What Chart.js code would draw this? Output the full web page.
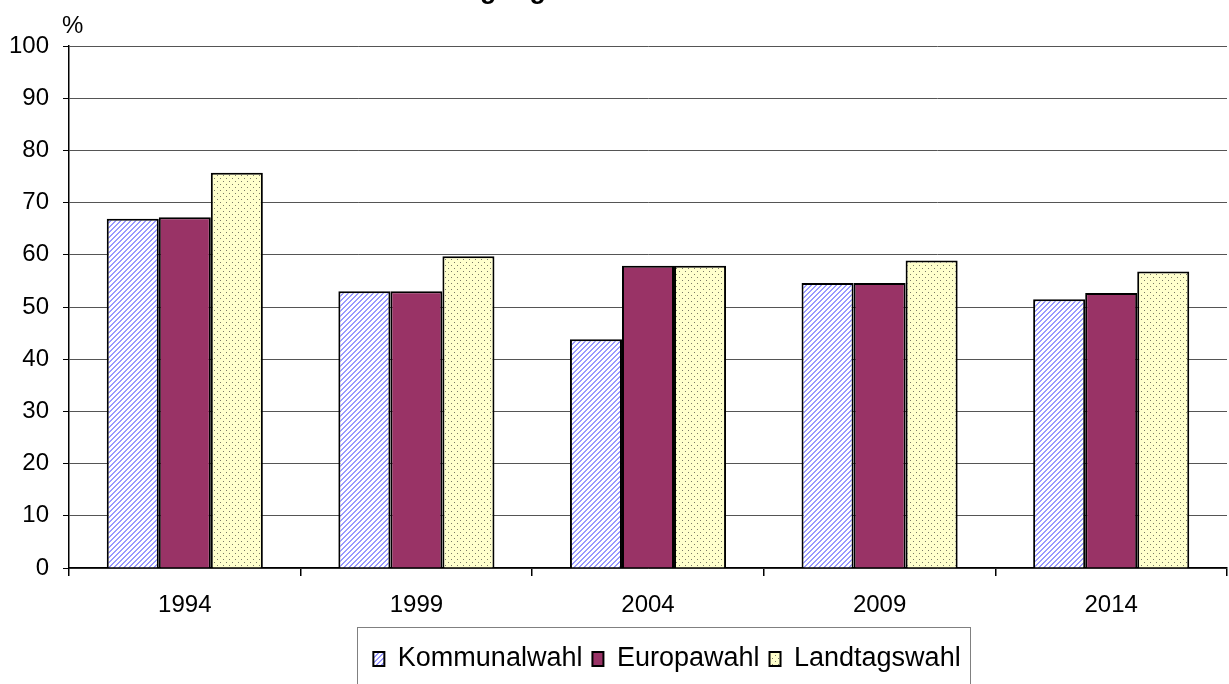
<!doctype html>
<html lang="de">
<head>
<meta charset="UTF-8" />
<title>Wahlbeteiligung</title>
<script src="https://cdn.jsdelivr.net/npm/chart.js"></script>
<style>
  html, body { margin: 0; padding: 0; background: #fff; }
  #wrap { width: 1229px; height: 684px; }
</style>
</head>
<body>
<div id="wrap"><canvas id="chart" width="1229" height="684"></canvas></div>
<script>
    const YEARS = ['1994', '1999', '2004', '2009', '2014'];
    const KOMMUNAL = [66.9, 53.0, 43.8, 54.6, 51.5];
    const EUROPA = [67.2, 53.0, 57.9, 54.6, 52.7];
    const LANDTAG = [75.7, 59.7, 57.9, 58.9, 56.8];
    const SERIES = ['Kommunalwahl', 'Europawahl', 'Landtagswahl'];
    const TITLE = 'Wahlbeteiligung';
    const UNIT = '%';

    // Fill patterns like the old office chart.
    function stripes() {
        let c = document.createElement('canvas');
        c.width = c.height = 5;
        let g = c.getContext('2d');
        g.fillStyle = '#fff';
        g.fillRect(0, 0, 5, 5);
        g.fillStyle = '#9999ff';
        for (let x = 0; x < 5; x++)
            for (let y = 0; y < 5; y++)
                if ((x + y) % 5 < 2) g.fillRect(x, y, 1, 1);
        return g.createPattern(c, 'repeat');
    }

    function dots() {
        let c = document.createElement('canvas');
        c.width = c.height = 6;
        let g = c.getContext('2d');
        g.fillStyle = '#ffffcc';
        g.fillRect(0, 0, 6, 6);
        g.fillStyle = '#7a7a66';
        g.fillRect(1, 1, 1, 1);
        g.fillRect(4, 4, 1, 1);
        return g.createPattern(c, 'repeat');
    }

    const FAMILY = '"Liberation Sans", Arial, sans-serif';
    const FONT = { family: FAMILY, size: 24 };
    const LEGEND_FONT = { family: FAMILY, size: 27 };

    const extras = {
        id: 'extras',
        afterLayout(chart) {
            // legend sits a bit right of centre and low in the picture
            let l = chart.legend;
            let pad = l.options.labels.padding;
            let dx = 667 - (l.left + l.right) / 2;
            l.left += dx;
            l.right += dx;
            let ih = Math.max(LEGEND_FONT.size, l.options.labels.boxHeight);
            let dy = 659 - (l.top + pad + ih / 2);
            l.top += dy;
            l.bottom += dy;
        },
        afterDraw(chart) {
            let ctx = chart.ctx;
            ctx.save();
            // clipped title, only the descenders show
            ctx.font = 'bold 27px ' + FAMILY;
            ctx.fillStyle = '#000';
            ctx.textBaseline = 'alphabetic';
            ctx.textAlign = 'left';
            let pre = ctx.measureText('Wahlbeteili').width;
            ctx.fillText(TITLE, 480 - pre, -2);

            ctx.font = '24px ' + FAMILY;
            ctx.fillText(UNIT, 62, 33);

            // frame round the legend
            let l = chart.legend;
            let pad = l.options.labels.padding;
            let lw = l.lineWidths[0];
            let start = (l.left + pad + l.right - lw) / 2;
            let x0 = Math.round(start - 16) + 0.5;
            let x1 = Math.round(start + lw - pad + 9) + 0.5;
            ctx.strokeStyle = '#808080';
            ctx.lineWidth = 1;
            ctx.strokeRect(x0, 627.5, x1 - x0, 100);
            ctx.restore();
        },
    };

    const canvas = document.getElementById('chart');

    let chart = new Chart(canvas, {
        type: 'bar',
        data: {
            labels: YEARS,
            datasets: [
                { label: SERIES[0], data: KOMMUNAL, backgroundColor: stripes() },
                { label: SERIES[1], data: EUROPA, backgroundColor: '#993366' },
                { label: SERIES[2], data: LANDTAG, backgroundColor: dots() },
            ].map((d) => Object.assign(d, {
                borderColor: '#000',
                borderWidth: 2,
                borderSkipped: 'start',
                categoryPercentage: 0.674,
                barPercentage: 1,
            })),
        },
        options: {
            responsive: false,
            animation: false,
            layout: { padding: { top: 46, left: 0, right: 2, bottom: 0 } },
            plugins: {
                title: { display: false },
                tooltip: { enabled: false },
                legend: {
                    position: 'bottom',
                    labels: {
                        color: '#000',
                        font: LEGEND_FONT,
                        boxWidth: 11,
                        boxHeight: 14,
                        padding: 10,
                    },
                },
            },
            scales: {
                x: {
                    afterFit(s) { s.height = 684 - 568 - s.chart.legend.height; },
                    grid: {
                        offset: true,
                        drawOnChartArea: false,
                        tickLength: 8,
                        tickColor: '#000',
                        lineWidth: 1.5,
                    },
                    border: { color: '#000', width: 1.5 },
                    ticks: { color: '#000', font: FONT, padding: 15 },
                },
                y: {
                    min: 0,
                    max: 100,
                    afterFit(s) { s.width = 69; },
                    grid: {
                        color: '#555',
                        tickColor: '#000',
                        tickLength: 6,
                        lineWidth: 1,
                    },
                    border: { color: '#000', width: 1.5 },
                    ticks: { stepSize: 10, color: '#000', font: FONT, padding: 14 },
                },
            },
        },
        plugins: [extras],
    });
</script>
</body>
</html>
